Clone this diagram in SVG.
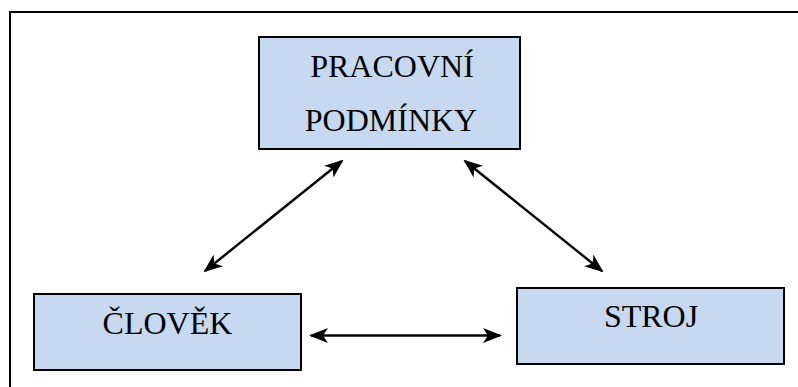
<svg xmlns="http://www.w3.org/2000/svg" width="798" height="387" viewBox="0 0 798 387">
  <style>
    .box { fill: #C6D9F1; stroke: #000; stroke-width: 2; }
    .lbl { font-family: "Liberation Serif", serif; font-size: 32px; fill: #000; text-anchor: middle; }
    .conn { stroke: #000; stroke-width: 2.4; fill: none; marker-start: url(#head); marker-end: url(#head); }
  </style>
  <defs>
    <marker id="head" markerUnits="userSpaceOnUse" markerWidth="19" markerHeight="15" refX="17" refY="7.5" orient="auto-start-reverse" viewBox="0 0 19 15">
      <path d="M0,0 L19,7.5 L0,15 L5,7.5 Z" fill="#000"/>
    </marker>
  </defs>

  <rect width="798" height="387" fill="#fff"/>

  <!-- outer frame (continues past the right and bottom edges) -->
  <path d="M10,400 L10,12 L810,12" fill="none" stroke="#000" stroke-width="2"/>

  <g id="connectors">
    <line class="conn" x1="342" y1="161" x2="205" y2="271"/>
    <line class="conn" x1="465" y1="161" x2="602" y2="271"/>
    <line class="conn" x1="311" y1="335.5" x2="500" y2="335.5"/>
  </g>

  <g id="pracovni-podminky">
    <rect class="box" x="259" y="37" width="261" height="112"/>
    <text class="lbl" x="392" y="77">PRACOVNÍ</text>
    <text class="lbl" x="391" y="131">PODMÍNKY</text>
  </g>

  <g id="clovek">
    <rect class="box" x="34" y="294" width="267" height="76"/>
    <text class="lbl" x="167.5" y="334">ČLOVĚK</text>
  </g>

  <g id="stroj">
    <rect class="box" x="517" y="288" width="267" height="76"/>
    <text class="lbl" x="651" y="327">STROJ</text>
  </g>
</svg>
